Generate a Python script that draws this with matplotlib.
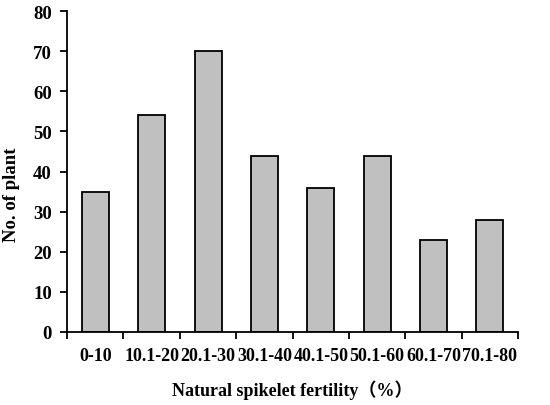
import matplotlib
matplotlib.use("Agg")
import matplotlib.pyplot as plt
import numpy as np

# spikelet fertility classes and plant counts
categories = ["0-10", "10.1-20", "20.1-30", "30.1-40", "40.1-50", "50.1-60", "60.1-70", "70.1-80"]
counts = [35, 54, 70, 44, 36, 44, 23, 28]
yticks = [0, 10, 20, 30, 40, 50, 60, 70, 80]

plt.rcParams['font.family'] = ['Liberation Serif', 'Noto Sans CJK SC']
plt.rcParams['font.weight'] = 'bold'

fig = plt.figure(figsize=(5.5, 4.06), dpi=100)
ax = fig.add_axes([0.122, 0.18, 0.82, 0.79])

x = np.arange(len(categories))
ax.bar(x, counts, width=0.48, color='#c0c0c0', edgecolor='black', linewidth=1.3)

ax.set_xlim(-0.5, len(categories) - 0.5)
ax.set_ylim(0, 80)
ax.set_yticks(yticks)
ax.set_yticklabels([str(v) for v in yticks], fontsize=13.5, fontweight='bold')

# labels at the bar centres, tick marks at the class boundaries
ax.set_xticks(x)
ax.set_xticklabels(categories, fontsize=13, fontweight='bold')
ax.tick_params(axis='x', which='major', length=0, pad=11)
ax.set_xticks(np.arange(len(categories) + 1) - 0.5, minor=True)
ax.tick_params(axis='x', which='minor', length=5, width=1.3, direction='out')
ax.tick_params(axis='y', length=5, width=1.3, direction='out', pad=6)

ax.spines['top'].set_visible(False)
ax.spines['right'].set_visible(False)
ax.spines['left'].set_linewidth(1.3)
ax.spines['bottom'].set_linewidth(1.3)

ax.set_ylabel("No. of plant", fontsize=13.5, fontweight='bold')
ax.yaxis.set_label_coords(-0.105, 0.43)
ax.set_xlabel("Natural spikelet fertility（%）", fontsize=13, fontweight='bold', labelpad=11)

fig.savefig("out.png", dpi=100)
